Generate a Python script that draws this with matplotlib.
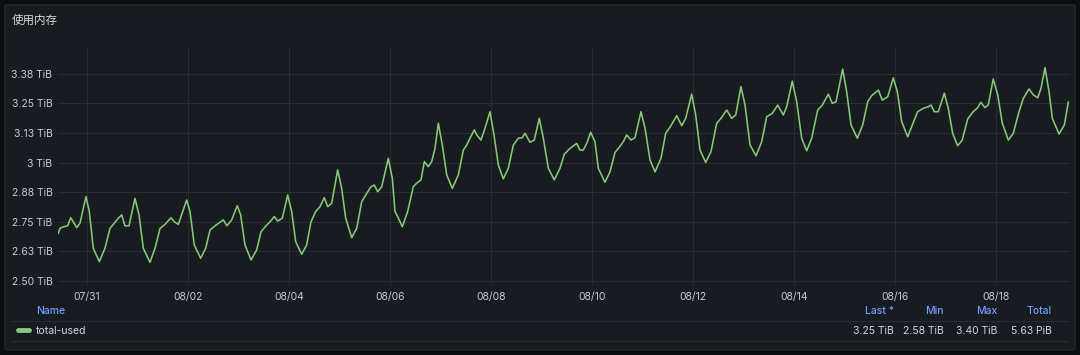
import matplotlib
matplotlib.use("Agg")
import matplotlib.pyplot as plt
from matplotlib.patches import FancyBboxPatch
from matplotlib.lines import Line2D

plt.rcParams['font.family'] = ['Inter', 'Noto Sans CJK SC', 'DejaVu Sans']

# data: days since 07/30 00:00, used memory in TiB
days = [0.432, 0.465, 0.53, 0.618, 0.677, 0.729, 0.796, 0.861, 0.98, 1.046,
        1.125, 1.244, 1.356, 1.455, 1.541, 1.62, 1.687, 1.752, 1.832, 1.95,
        2.03, 2.115, 2.248, 2.347, 2.446, 2.545, 2.663, 2.729, 2.808, 2.974,
        3.04, 3.125, 3.25, 3.35, 3.436, 3.535, 3.70, 3.77, 3.865, 3.976,
        4.043, 4.129, 4.248, 4.36, 4.446, 4.558, 4.624, 4.709, 4.776, 4.868,
        4.974, 5.053, 5.133, 5.251, 5.35, 5.436, 5.528, 5.614, 5.699, 5.766,
        5.845, 5.964, 6.043, 6.123, 6.242, 6.34, 6.44, 6.539, 6.624, 6.69,
        6.756, 6.836, 6.966, 7.046, 7.099, 7.152, 7.244, 7.349, 7.461, 7.528,
        7.614, 7.68, 7.759, 7.826, 7.891, 7.957, 8.036, 8.123, 8.234, 8.353,
        8.452, 8.519, 8.584, 8.67, 8.717, 8.802, 8.881, 8.98, 9.059, 9.145,
        9.244, 9.343, 9.442, 9.541, 9.62, 9.673, 9.772, 9.857, 9.956, 10.036,
        10.135, 10.253, 10.366, 10.451, 10.564, 10.697, 10.762, 10.828, 10.895, 10.974,
        11.059, 11.125, 11.257, 11.356, 11.455, 11.535, 11.62, 11.687, 11.772, 11.851,
        11.97, 12.05, 12.149, 12.248, 12.366, 12.459, 12.564, 12.677, 12.776, 12.855,
        12.974, 13.053, 13.139, 13.251, 13.356, 13.469, 13.554, 13.667, 13.766, 13.846,
        13.95, 14.03, 14.129, 14.248, 14.36, 14.459, 14.57, 14.677, 14.788, 14.855,
        14.966, 15.053, 15.152, 15.251, 15.35, 15.469, 15.561, 15.679, 15.759, 15.832,
        15.964, 16.043, 16.129, 16.254, 16.36, 16.459, 16.539, 16.67, 16.749, 16.856,
        16.966, 17.046, 17.133, 17.251, 17.33, 17.449, 17.56, 17.659, 17.713, 17.778,
        17.857, 17.976, 18.055, 18.141, 18.24, 18.331, 18.438, 18.548, 18.636, 18.701,
        18.78, 18.846, 18.945, 19.034, 19.125, 19.244, 19.343, 19.455, 19.54, 19.653,
        19.738, 19.826, 19.891, 19.97, 20.05, 20.115, 20.248, 20.353, 20.432]
used = [2.701, 2.722, 2.729, 2.733, 2.767, 2.750, 2.725, 2.744, 2.856, 2.793,
        2.638, 2.582, 2.638, 2.722, 2.744, 2.765, 2.779, 2.733, 2.733, 2.849,
        2.779, 2.638, 2.579, 2.638, 2.722, 2.739, 2.767, 2.750, 2.739, 2.842,
        2.793, 2.652, 2.596, 2.638, 2.715, 2.733, 2.758, 2.733, 2.758, 2.818,
        2.779, 2.652, 2.589, 2.631, 2.708, 2.736, 2.750, 2.772, 2.753, 2.765,
        2.863, 2.793, 2.666, 2.613, 2.652, 2.750, 2.793, 2.814, 2.852, 2.814,
        2.828, 2.969, 2.891, 2.765, 2.683, 2.722, 2.835, 2.870, 2.898, 2.905,
        2.877, 2.898, 3.018, 2.934, 2.793, 2.772, 2.729, 2.793, 2.898, 2.913,
        2.927, 3.004, 2.983, 3.004, 3.060, 3.166, 3.074, 2.948, 2.891, 2.948,
        3.053, 3.074, 3.103, 3.138, 3.117, 3.095, 3.145, 3.215, 3.117, 2.990,
        2.931, 2.976, 3.074, 3.103, 3.105, 3.124, 3.086, 3.095, 3.187, 3.103,
        2.976, 2.927, 2.976, 3.035, 3.060, 3.081, 3.053, 3.053, 3.081, 3.128,
        3.088, 2.976, 2.917, 2.961, 3.043, 3.063, 3.088, 3.117, 3.095, 3.105,
        3.215, 3.145, 3.011, 2.961, 3.018, 3.124, 3.156, 3.198, 3.156, 3.187,
        3.289, 3.201, 3.053, 3.001, 3.046, 3.166, 3.187, 3.222, 3.187, 3.201,
        3.321, 3.243, 3.074, 3.029, 3.088, 3.194, 3.208, 3.243, 3.201, 3.236,
        3.344, 3.257, 3.103, 3.050, 3.103, 3.222, 3.243, 3.289, 3.250, 3.257,
        3.395, 3.299, 3.159, 3.103, 3.159, 3.257, 3.283, 3.306, 3.264, 3.278,
        3.358, 3.299, 3.173, 3.109, 3.152, 3.215, 3.229, 3.236, 3.243, 3.215,
        3.215, 3.293, 3.229, 3.124, 3.071, 3.095, 3.184, 3.215, 3.232, 3.255,
        3.232, 3.243, 3.353, 3.286, 3.166, 3.095, 3.124, 3.215, 3.271, 3.311,
        3.286, 3.274, 3.314, 3.401, 3.299, 3.187, 3.121, 3.159, 3.255]

x_ticks = [1, 3, 5, 7, 9, 11, 13, 15, 17, 19]
x_labels = ['07/31', '08/02', '08/04', '08/06', '08/08',
            '08/10', '08/12', '08/14', '08/16', '08/18']
y_ticks = [2.5, 2.625, 2.75, 2.875, 3.0, 3.125, 3.25, 3.375]
y_labels = ['2.50 TiB', '2.63 TiB', '2.75 TiB', '2.88 TiB',
            '3 TiB', '3.13 TiB', '3.25 TiB', '3.38 TiB']
series_name = 'total-used'
stat_names = ['Last *', 'Min', 'Max', 'Total']
stat_values = ['3.25 TiB', '2.58 TiB', '3.40 TiB', '5.63 PiB']

W, H = 1080, 355
fig = plt.figure(figsize=(W / 100, H / 100), dpi=100)
fig.patch.set_facecolor('#0c0d0f')


def fx(px):
    return px / W


def fy(py):
    return 1 - py / H


# panel
panel = FancyBboxPatch((fx(5), fy(350)), fx(1070), (345) / H,
                       boxstyle='round,pad=0,rounding_size=0.004',
                       transform=fig.transFigure, facecolor='#181b1f',
                       edgecolor='#26282d', linewidth=1.0, zorder=-10)
fig.patches.append(panel)

fig.text(fx(12), fy(20), '使用内存', color='#d8d9da', fontsize=8.3,
         va='center', ha='left', family=['Noto Sans CJK SC', 'DejaVu Sans'])

ax_l, ax_r, ax_t, ax_b = 58, 1070, 48, 285
ax = fig.add_axes([fx(ax_l), fy(ax_b), fx(ax_r - ax_l), (ax_b - ax_t) / H])
ax.set_facecolor('none')
ax.plot(days, used, color='#86c979', linewidth=1.15, solid_joinstyle='round')

ax.set_xlim(0.426, 20.465)
ax.set_ylim(2.483, 3.484)
ax.set_xticks(x_ticks)
ax.set_xticklabels(x_labels)
ax.set_yticks(y_ticks)
ax.set_yticklabels(y_labels)
ax.tick_params(length=0, colors='#c7cbd1', labelsize=7.5)
ax.tick_params(axis='x', pad=5)
ax.tick_params(axis='y', pad=4)
ax.grid(True, color='#2a2c31', linewidth=0.8)
ax.set_axisbelow(True)
for s in ax.spines.values():
    s.set_visible(False)

# legend table
head_color = '#6e9fff'
txt_color = '#d0d3d8'
fig.text(fx(36), fy(311), 'Name', color=head_color, fontsize=7.5,
         ha='left', va='center', weight='medium')
right_edges = [894, 944, 997, 1052]
for name, val, xr in zip(stat_names, stat_values, right_edges):
    fig.text(fx(xr), fy(311), name, color=head_color, fontsize=7.5,
             ha='right', va='center', weight='medium')
    fig.text(fx(xr), fy(330.5), val, color=txt_color, fontsize=7.5,
             ha='right', va='center')
for yy in [320.5, 340.5]:
    fig.add_artist(Line2D([fx(12), fx(1068)], [fy(yy), fy(yy)],
                          color='#2a2c31', linewidth=0.8,
                          transform=fig.transFigure))
fig.add_artist(Line2D([fx(18), fx(29)], [fy(330), fy(330)],
                      color='#86c979', linewidth=3.5, solid_capstyle='round',
                      transform=fig.transFigure))
fig.text(fx(36), fy(330.5), series_name, color=txt_color, fontsize=7.5,
         ha='left', va='center')

fig.savefig('out.png', dpi=100, facecolor=fig.get_facecolor())
